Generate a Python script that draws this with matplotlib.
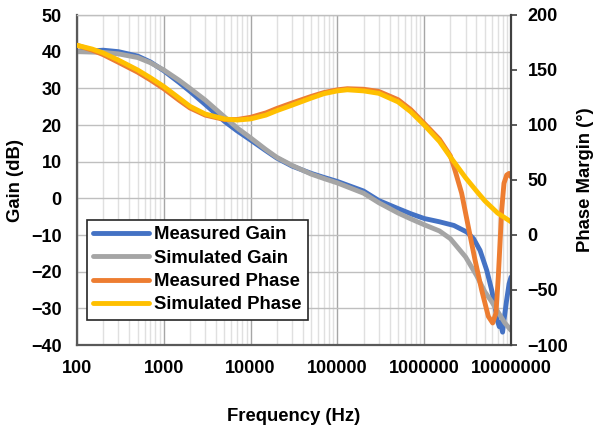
import numpy as np
import matplotlib
matplotlib.use("Agg")
import matplotlib.pyplot as plt
from matplotlib.ticker import LogLocator, NullFormatter

plt.rcParams['font.family'] = ['Liberation Sans', 'DejaVu Sans']
plt.rcParams['font.weight'] = 'bold'

# Measured gain (dB)
f_meas_gain = [100, 150, 200, 300, 500, 700, 1000, 1500, 2000, 3000, 5000, 7000,
               10000, 15000, 20000, 30000, 50000, 70000, 1e5, 2e5, 3e5, 5e5, 7e5,
               1e6, 1.5e6, 2.2e6, 3.1e6, 3.7e6, 4.4e6, 5.25e6, 6e6, 6.55e6, 6.95e6,
               7.33e6, 7.6e6, 7.81e6, 8.0e6, 8.3e6, 8.9e6, 9.5e6, 1e7]
meas_gain = [40.0, 40.2, 40.4, 40.0, 38.8, 37.2, 34.8, 31.6, 29.2, 25.6, 21.0, 18.4,
             15.9, 13.0, 11.0, 8.8, 6.8, 5.7, 4.6, 2.0, -0.6, -2.8, -4.2,
             -5.5, -6.4, -7.4, -9.2, -11.0, -14.2, -19.6, -25.1, -29.6, -33.3,
             -35.0, -33.8, -35.5, -36.5, -33.3, -27.8, -23.3, -21.5]

# Simulated gain (dB)
f_sim_gain = [100, 200, 300, 500, 700, 1000, 1500, 2000, 3000, 5000, 7000, 10000,
              15000, 20000, 30000, 50000, 70000, 1e5, 2e5, 3e5, 5e5, 7e5, 1e6,
              1.5e6, 2e6, 3e6, 4e6, 5e6, 6e6, 7e6, 8.5e6, 1e7]
sim_gain = [40.0, 39.8, 39.4, 38.4, 37.0, 35.0, 32.2, 30.0, 26.8, 22.2, 19.2, 16.5,
            13.3, 11.2, 9.0, 6.6, 5.4, 4.2, 1.4, -1.2, -4.0, -5.6, -7.2,
            -8.9, -11.0, -16.0, -21.0, -25.5, -28.2, -30.8, -34.0, -36.0]

# Measured phase (deg)
f_meas_phase = [100, 150, 200, 300, 500, 700, 1000, 1500, 2000, 3000, 5000, 7000,
                10000, 15000, 20000, 30000, 50000, 70000, 1e5, 1.3e5, 2e5, 3e5, 5e5,
                7e5, 1e6, 1.5e6, 2e6, 2.26e6, 2.7e6, 3.22e6, 3.85e6, 4.59e6, 5.48e6,
                6.15e6, 6.71e6, 7.14e6, 7.47e6, 7.81e6, 8.3e6, 8.92e6, 9.5e6, 1e7]
meas_phase = [172.5, 168, 164, 157, 148, 141, 133, 122.5, 115.5, 109, 105, 105,
              107, 111, 115, 120, 126, 129.5, 132, 133, 132.5, 130.5, 123,
              114, 101.5, 87, 72, 59, 38, 7.6, -22.7, -50, -74,
              -80, -71, -38, -7.6, 22.7, 47, 54.5, 56, 53]

# Simulated phase (deg)
f_sim_phase = [100, 150, 200, 300, 500, 700, 1000, 1500, 2000, 3000, 5000, 7000,
               10000, 15000, 20000, 30000, 50000, 70000, 1e5, 1.3e5, 2e5, 3e5, 5e5,
               7e5, 1e6, 1.5e6, 2e6, 3e6, 4e6, 5e6, 7e6, 1e7]
sim_phase = [172.5, 169, 165.5, 159, 150, 143, 135, 124.5, 117, 110, 105.5, 104.5,
             105.5, 109, 113, 118, 124.5, 128.5, 131, 132, 131, 128.8, 121,
             112, 100, 85, 71, 52, 40, 31, 20, 12]

x_ticks = [100, 1000, 10000, 100000, 1000000, 10000000]
x_labels = ['100', '1000', '10000', '100000', '1000000', '10000000']

fig = plt.figure(figsize=(5.94, 4.30), dpi=100)
ax = fig.add_axes([77 / 594, 1 - 345 / 430, (511 - 77) / 594, 330 / 430])
ax2 = ax.twinx()

l1, = ax.plot(f_meas_gain, meas_gain, color='#4472C4', lw=3.5, solid_capstyle='round')
l2, = ax.plot(f_sim_gain, sim_gain, color='#A5A5A5', lw=3.5, solid_capstyle='round')
l3, = ax2.plot(f_meas_phase, meas_phase, color='#ED7D31', lw=3.5, solid_capstyle='round')
l4, = ax2.plot(f_sim_phase, sim_phase, color='#FFC000', lw=3.5, solid_capstyle='round')

ax.set_xscale('log')
ax.set_xlim(100, 1e7)
ax.set_ylim(-40, 50)
ax2.set_ylim(-100, 200)
ax.set_yticks(range(-40, 51, 10))
ax2.set_yticks(range(-100, 201, 50))
ax.set_xticks(x_ticks)
ax.set_xticklabels(x_labels)
ax.xaxis.set_minor_locator(LogLocator(base=10, subs=np.arange(2, 10)))
ax.xaxis.set_minor_formatter(NullFormatter())

ax.xaxis.grid(True, which='major', color='#A6A6A6', lw=1)
ax.xaxis.grid(True, which='minor', color='#E0E0E0', lw=1)
ax.yaxis.grid(True, which='major', color='#BFBFBF', lw=1)
ax.set_axisbelow(True)

ax.tick_params(axis='x', which='both', length=0, pad=11, labelsize=13)
ax.tick_params(axis='y', length=0, pad=11, labelsize=13)
ax2.tick_params(axis='y', direction='out', length=4.5, width=1.2, color='#404040',
                pad=7.5, labelsize=13)

for s in ['left', 'bottom']:
    ax.spines[s].set_color('#595959')
    ax.spines[s].set_linewidth(1.6)
ax.spines['top'].set_color('#BFBFBF')
ax.spines['top'].set_linewidth(1)
ax.spines['right'].set_visible(False)
for s in ['left', 'bottom', 'top']:
    ax2.spines[s].set_visible(False)
ax2.spines['right'].set_color('#404040')
ax2.spines['right'].set_linewidth(1.6)

ax.set_xlabel('Frequency (Hz)', fontsize=13.3, fontweight='bold', labelpad=22)
ax.set_ylabel('Gain (dB)', fontsize=13.3, fontweight='bold', labelpad=5)
ax2.set_ylabel('Phase Margin (°)', fontsize=13.3, fontweight='bold', labelpad=6)

leg = ax2.legend([l1, l2, l3, l4],
                 ['Measured Gain', 'Simulated Gain', 'Measured Phase', 'Simulated Phase'],
                 loc='upper left', bbox_to_anchor=(87 / 594, 1 - 220 / 430),
                 bbox_transform=fig.transFigure, borderaxespad=0, fancybox=False,
                 edgecolor='#262626', framealpha=1, handlelength=3.0,
                 handletextpad=0.3, labelspacing=0.34, borderpad=0.35,
                 prop={'weight': 'bold', 'size': 13.3})
leg.get_frame().set_linewidth(1.2)

plt.savefig('out.png', dpi=100)
plt.close()
